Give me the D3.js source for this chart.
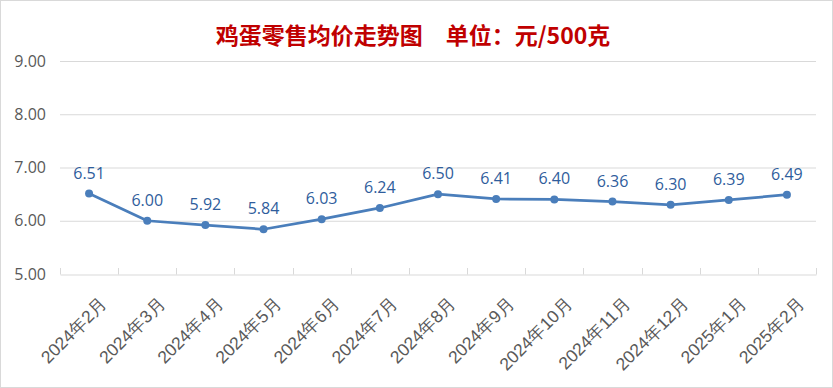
<!DOCTYPE html>
<html lang="zh">
<head>
<meta charset="UTF-8">
<title>鸡蛋零售均价走势图</title>
<script src="https://cdnjs.cloudflare.com/ajax/libs/d3/7.9.0/d3.min.js"></script>
<style>
  body{margin:0;background:#fff;}
  svg{display:block;font-family:"Noto Sans CJK SC","Noto Sans",sans-serif;}
</style>
</head>
<body>
<div id="chart"></div>
<script>
/* ---------- data ---------- */
const months = ["2024年2月","2024年3月","2024年4月","2024年5月","2024年6月","2024年7月","2024年8月",
                "2024年9月","2024年10月","2024年11月","2024年12月","2025年1月","2025年2月"];
const prices = [6.51,6.00,5.92,5.84,6.03,6.24,6.50,6.41,6.40,6.36,6.30,6.39,6.49];
const yTicks = [5,6,7,8,9];
const title = "鸡蛋零售均价走势图　单位：元/500克";

/* ---------- layout ---------- */
const W = 833, H = 388;
const m = {left:60, right:17, top:61, bottom:114};

const svg = d3.select("#chart").append("svg").attr("width",W).attr("height",H);

svg.append("rect").attr("x",0.5).attr("y",0.5).attr("width",W-1).attr("height",H-1)
  .attr("fill","#fff").attr("stroke","#d9d9d9");

svg.append("text").attr("x",413).attr("y",44).attr("text-anchor","middle")
  .attr("fill","#c00000").attr("font-size",23).attr("font-weight","700")
  .text(title);

const x = d3.scaleBand().domain(months).range([m.left, W-m.right]);
const y = d3.scaleLinear().domain([5,9]).range([H-m.bottom, m.top]);

// gridlines
svg.append("g").selectAll("line").data(yTicks.slice(1)).join("line")
  .attr("x1",m.left).attr("x2",W-m.right)
  .attr("y1",d=>y(d)+0.5).attr("y2",d=>y(d)+0.5)
  .attr("stroke","#d9d9d9");

// y axis labels
const yAxis = svg.append("g").attr("transform",`translate(${m.left},0)`)
  .call(d3.axisLeft(y).tickValues(yTicks).tickFormat(d3.format(".2f")).tickSize(0).tickPadding(14));
yAxis.select(".domain").remove();
yAxis.selectAll("text").attr("fill","#595959").attr("font-size",16)
  .attr("font-family","'Open Sans','Noto Sans',sans-serif");

// x axis
const xAxis = svg.append("g").attr("transform",`translate(0,${y(5)+0.5})`)
  .call(d3.axisBottom(x).tickSize(0));
xAxis.select(".domain").attr("stroke","#d9d9d9");
xAxis.selectAll(".tick line").remove();
// category separators ticks (above axis)
const edges = months.map(d=>x(d)).concat([x(months[months.length-1])+x.bandwidth()]);
svg.append("g").selectAll("line").data(edges).join("line")
  .attr("x1",d=>Math.round(d)+0.5).attr("x2",d=>Math.round(d)+0.5)
  .attr("y1",y(5)-6).attr("y2",y(5)+0.5)
  .attr("stroke","#d9d9d9");
xAxis.selectAll("text")
  .attr("fill","#595959").attr("font-size",17.5)
  .attr("text-anchor","end")
  .attr("dy",0)
  .attr("transform","translate(17,28) rotate(-45)");

// line
const lineColor = "#4a7ebb";
svg.append("path").datum(prices)
  .attr("fill","none").attr("stroke",lineColor).attr("stroke-width",2.75)
  .attr("stroke-linejoin","round")
  .attr("d",d3.line().x((d,i)=>x(months[i])+x.bandwidth()/2).y(d=>y(d)));

svg.append("g").selectAll("circle").data(prices).join("circle")
  .attr("cx",(d,i)=>x(months[i])+x.bandwidth()/2).attr("cy",d=>y(d))
  .attr("r",4).attr("fill",lineColor);

svg.append("g").selectAll("text").data(prices).join("text")
  .attr("x",(d,i)=>x(months[i])+x.bandwidth()/2).attr("y",d=>y(d)-15)
  .attr("text-anchor","middle").attr("fill","#2f5d9c").attr("font-size",16)
  .attr("font-family","'Open Sans','Noto Sans',sans-serif")
  .text(d=>d.toFixed(2));
</script>
</body>
</html>
